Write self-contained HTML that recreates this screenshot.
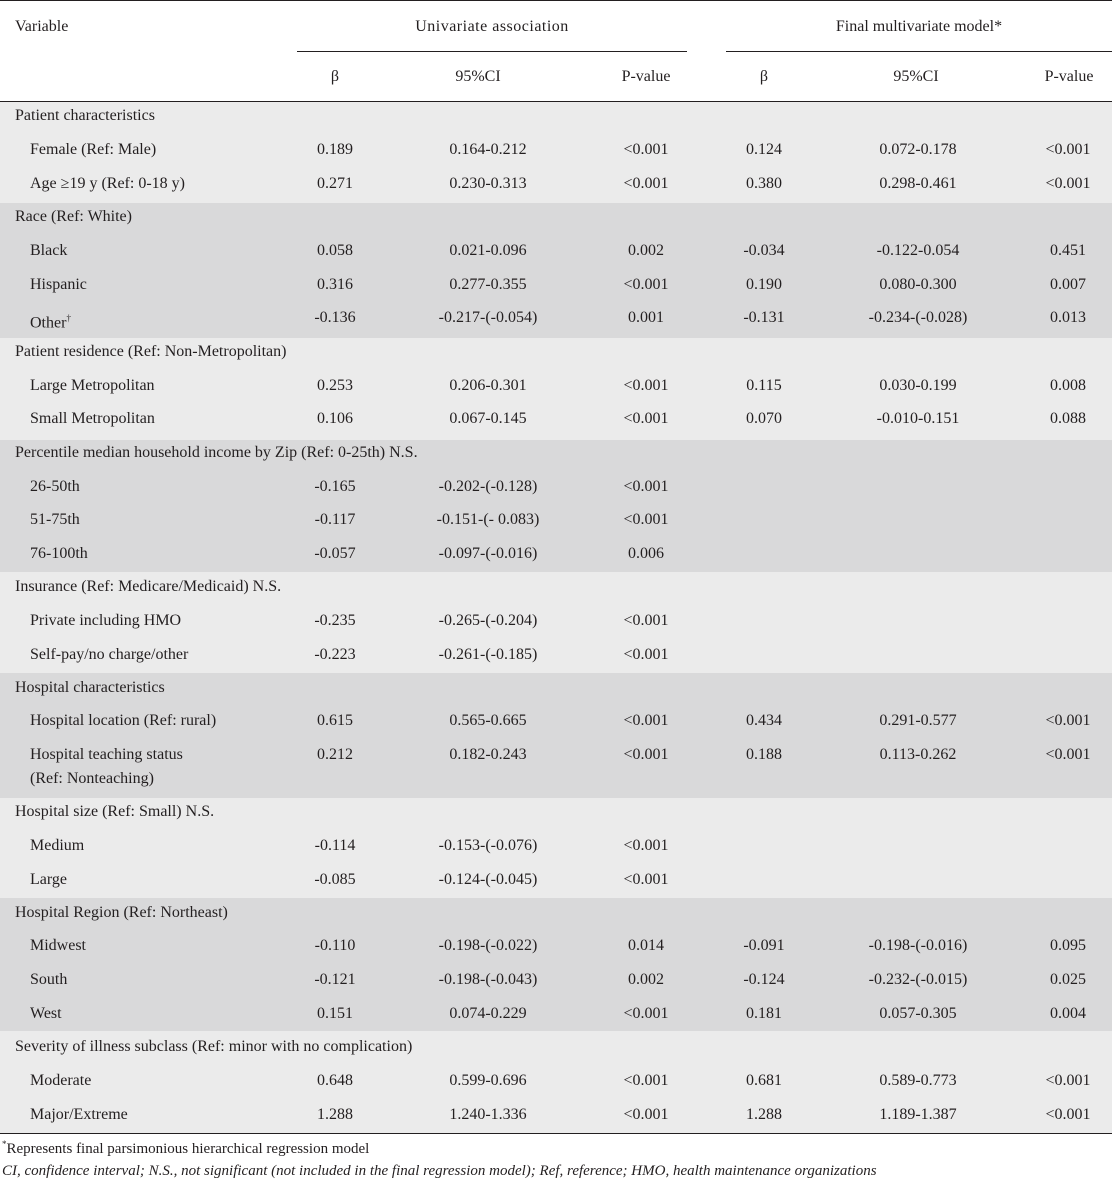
<!DOCTYPE html>
<html><head><meta charset="utf-8"><style>
body{margin:0;width:1112px;height:1182px;background:#fff;position:relative;overflow:hidden;font-family:"Liberation Serif",serif;color:#231f20;font-size:16px}
.a{position:absolute;white-space:nowrap;line-height:20px}
.c{transform:translateX(-50%)}
.band{position:absolute;left:0;width:1112px}
.ln{position:absolute;height:1px;background:#231f20}
</style></head><body>
<div class="ln" style="left:0;top:0;width:1112px"></div>
<div class="a" style="left:15px;top:17px">Variable</div>
<div class="a c" style="left:492px;top:17px;letter-spacing:0.5px">Univariate association</div>
<div class="a c" style="left:919px;top:17px">Final multivariate model*</div>
<div class="ln" style="left:297px;top:51px;width:390px"></div>
<div class="ln" style="left:726px;top:51px;width:386px"></div>
<div class="a c" style="left:335px;top:67px">β</div>
<div class="a c" style="left:478px;top:67px">95%CI</div>
<div class="a c" style="left:646px;top:67px">P-value</div>
<div class="a c" style="left:764px;top:67px">β</div>
<div class="a c" style="left:916px;top:67px">95%CI</div>
<div class="a c" style="left:1069px;top:67px">P-value</div>
<div class="ln" style="left:0;top:101px;width:1112px"></div>
<div id="body"></div>
<div class="ln" style="left:0;top:1133px;width:1112px"></div>
<div class="a" style="left:2px;top:1134px;font-size:15px"><sup style="font-size:9px">*</sup>Represents final parsimonious hierarchical regression model</div>
<div class="a" style="left:2px;top:1161px;font-size:15px;font-style:italic">CI, confidence interval; N.S., not significant (not included in the final regression model); Ref, reference; HMO, health maintenance organizations</div>
<script>
const bands=[[102,203,'#ebebeb'],[203,338,'#d9d9da'],[338,440,'#ebebeb'],[440,572,'#d9d9da'],[572,673,'#ebebeb'],[673,798,'#d9d9da'],[798,898,'#ebebeb'],[898,1031,'#d9d9da'],[1031,1133,'#ebebeb']];
const rows=[
[116,0,'Patient characteristics'],
[150,1,'Female (Ref: Male)','0.189','0.164-0.212','<0.001','0.124','0.072-0.178','<0.001'],
[184,1,'Age ≥19 y (Ref: 0-18 y)','0.271','0.230-0.313','<0.001','0.380','0.298-0.461','<0.001'],
[217,0,'Race (Ref: White)'],
[251,1,'Black','0.058','0.021-0.096','0.002','-0.034','-0.122-0.054','0.451'],
[285,1,'Hispanic','0.316','0.277-0.355','<0.001','0.190','0.080-0.300','0.007'],
[318,1,'Other<sup style="font-size:9px">†</sup>','-0.136','-0.217-(-0.054)','0.001','-0.131','-0.234-(-0.028)','0.013'],
[352,0,'Patient residence (Ref: Non-Metropolitan)'],
[386,1,'Large Metropolitan','0.253','0.206-0.301','<0.001','0.115','0.030-0.199','0.008'],
[419,1,'Small Metropolitan','0.106','0.067-0.145','<0.001','0.070','-0.010-0.151','0.088'],
[453,0,'Percentile median household income by Zip (Ref: 0-25th) N.S.'],
[487,1,'26-50th','-0.165','-0.202-(-0.128)','<0.001'],
[520,1,'51-75th','-0.117','-0.151-(- 0.083)','<0.001'],
[554,1,'76-100th','-0.057','-0.097-(-0.016)','0.006'],
[587,0,'Insurance (Ref: Medicare/Medicaid) N.S.'],
[621,1,'Private including HMO','-0.235','-0.265-(-0.204)','<0.001'],
[655,1,'Self-pay/no charge/other','-0.223','-0.261-(-0.185)','<0.001'],
[688,0,'Hospital characteristics'],
[721,1,'Hospital location (Ref: rural)','0.615','0.565-0.665','<0.001','0.434','0.291-0.577','<0.001'],
[755,1,'Hospital teaching status','0.212','0.182-0.243','<0.001','0.188','0.113-0.262','<0.001'],
[779,1,'(Ref: Nonteaching)'],
[812,0,'Hospital size (Ref: Small) N.S.'],
[846,1,'Medium','-0.114','-0.153-(-0.076)','<0.001'],
[880,1,'Large','-0.085','-0.124-(-0.045)','<0.001'],
[913,0,'Hospital Region (Ref: Northeast)'],
[946,1,'Midwest','-0.110','-0.198-(-0.022)','0.014','-0.091','-0.198-(-0.016)','0.095'],
[980,1,'South','-0.121','-0.198-(-0.043)','0.002','-0.124','-0.232-(-0.015)','0.025'],
[1014,1,'West','0.151','0.074-0.229','<0.001','0.181','0.057-0.305','0.004'],
[1047,0,'Severity of illness subclass (Ref: minor with no complication)'],
[1081,1,'Moderate','0.648','0.599-0.696','<0.001','0.681','0.589-0.773','<0.001'],
[1115,1,'Major/Extreme','1.288','1.240-1.336','<0.001','1.288','1.189-1.387','<0.001']];
const colX=[335,488,646,764,918,1068];
const colNames=['beta-uni','ci-uni','p-uni','beta-multi','ci-multi','p-multi'];
const root=document.getElementById('body');
bands.forEach((b,i)=>{const d=document.createElement('div');d.className='band';


d.style.top=b[0]+'px';d.style.height=(b[1]-b[0])+'px';d.style.background=b[2];root.appendChild(d);});
rows.forEach(r=>{const y=r[0]-10;
const l=document.createElement('div');l.className='a';


l.style.left=(r[1]?30:15)+'px';l.style.top=y+'px';l.innerHTML=r[2];root.appendChild(l);
for(let k=3;k<r.length;k++){const c=document.createElement('div');c.className='a c';


c.style.left=colX[k-3]+'px';c.style.top=y+'px';c.textContent=r[k];root.appendChild(c);}});
</script>
</body></html>
